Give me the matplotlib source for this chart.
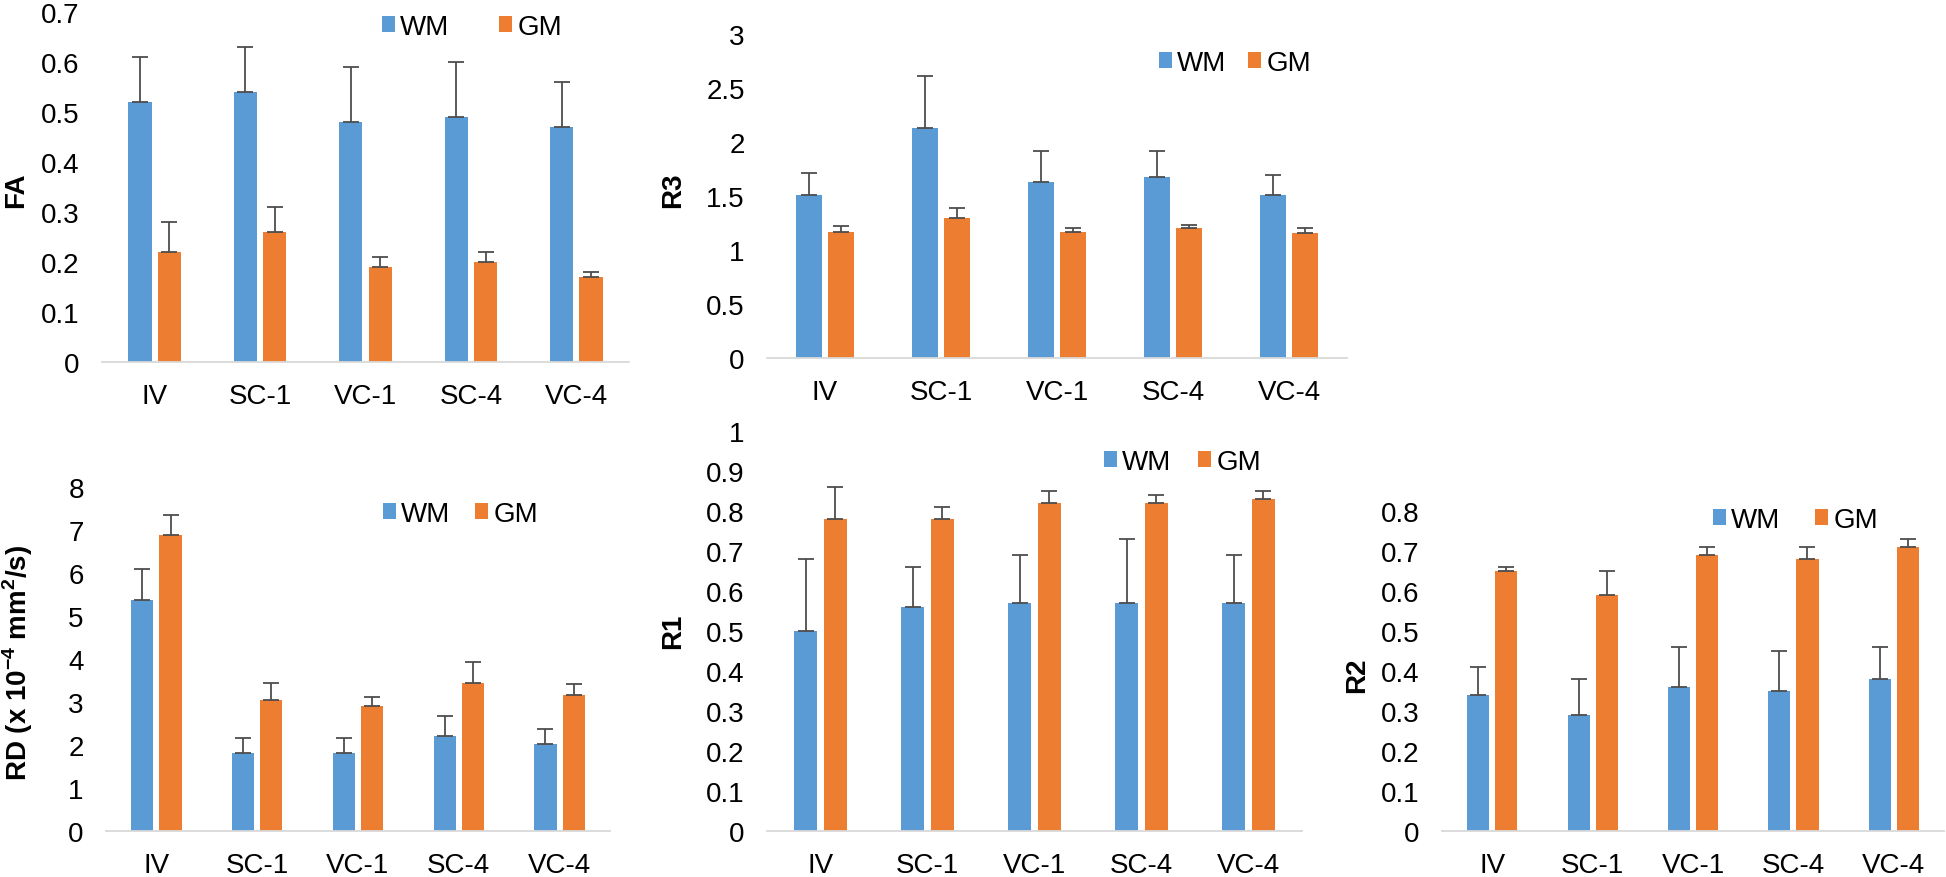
import numpy as np
from matplotlib import pyplot as plt
from matplotlib.ticker import FuncFormatter

W, H = 1946, 878
BLUE = '#5B9BD5'
ORANGE = '#ED7D31'
ERR_COLOR = '#4d4d4d'
FS = 20

groups = ['IV', 'SC-1', 'VC-1', 'SC-4', 'VC-4']

fa_wm = [0.52, 0.54, 0.48, 0.49, 0.47]
fa_wm_err = [0.09, 0.09, 0.11, 0.11, 0.09]
fa_gm = [0.22, 0.26, 0.19, 0.20, 0.17]
fa_gm_err = [0.06, 0.05, 0.02, 0.02, 0.01]

r3_wm = [1.51, 2.13, 1.63, 1.68, 1.51]
r3_wm_err = [0.20, 0.48, 0.29, 0.24, 0.18]
r3_gm = [1.17, 1.30, 1.17, 1.20, 1.16]
r3_gm_err = [0.05, 0.09, 0.03, 0.03, 0.04]

rd_wm = [5.37, 1.82, 1.82, 2.22, 2.02]
rd_wm_err = [0.73, 0.34, 0.34, 0.45, 0.35]
rd_gm = [6.88, 3.04, 2.91, 3.44, 3.16]
rd_gm_err = [0.48, 0.40, 0.20, 0.49, 0.27]

r1_wm = [0.50, 0.56, 0.57, 0.57, 0.57]
r1_wm_err = [0.18, 0.10, 0.12, 0.16, 0.12]
r1_gm = [0.78, 0.78, 0.82, 0.82, 0.83]
r1_gm_err = [0.08, 0.03, 0.03, 0.02, 0.02]

r2_wm = [0.34, 0.29, 0.36, 0.35, 0.38]
r2_wm_err = [0.07, 0.09, 0.10, 0.10, 0.08]
r2_gm = [0.65, 0.59, 0.69, 0.68, 0.71]
r2_gm_err = [0.01, 0.06, 0.02, 0.03, 0.02]

plt.rcParams['font.family'] = ['Liberation Sans', 'DejaVu Sans']
plt.rcParams['mathtext.fontset'] = 'custom'
plt.rcParams['mathtext.rm'] = 'Liberation Sans'
plt.rcParams['mathtext.bf'] = 'Liberation Sans:bold'

fig = plt.figure(figsize=(W / 100, H / 100), dpi=100)


def px_axes(x0, y0, x1, y1):
    # pixel box (top-left origin) -> figure axes
    return fig.add_axes([x0 / W, 1 - y1 / H, (x1 - x0) / W, (y1 - y0) / H])


def panel(box, wm, wm_err, gm, gm_err, top, step, label, label_xy, leg_xy, colspace):
    ax = px_axes(*box)
    x = np.arange(len(groups))
    off, bw = 0.14, 0.22
    ax.bar(x - off, wm, bw, color=BLUE, label='WM')
    ax.bar(x + off, gm, bw, color=ORANGE, label='GM')
    zeros = np.zeros(len(groups))
    ax.errorbar(x - off, wm, yerr=[zeros, wm_err], fmt='none', ecolor=ERR_COLOR,
                elinewidth=1.3, capsize=6, capthick=1.3)
    ax.errorbar(x + off, gm, yerr=[zeros, gm_err], fmt='none', ecolor=ERR_COLOR,
                elinewidth=1.3, capsize=6, capthick=1.3)
    ax.set_xlim(-0.5, len(groups) - 0.5)
    ax.set_ylim(0, top)
    ax.set_yticks(np.arange(0, top + step / 2, step))
    ax.yaxis.set_major_formatter(FuncFormatter(lambda v, p: '%g' % round(v, 2)))
    ax.set_xticks(x)
    ax.set_xticklabels(groups)
    for s in ['top', 'right', 'left']:
        ax.spines[s].set_visible(False)
    ax.spines['bottom'].set_color('#D9D9D9')
    ax.spines['bottom'].set_linewidth(1.3)
    ax.tick_params(axis='x', length=0, pad=15, labelsize=FS)
    ax.tick_params(axis='y', length=0, pad=16, labelsize=FS)
    fig.text(label_xy[0] / W, 1 - label_xy[1] / H, label, rotation=90,
             ha='center', va='center', fontsize=FS, fontweight='bold')
    fpx = FS * 100 / 72
    ax.legend(loc='center left', bbox_to_anchor=(leg_xy[0] / W, 1 - leg_xy[1] / H),
              bbox_transform=fig.transFigure, ncol=2, frameon=False, fontsize=FS,
              borderpad=0, borderaxespad=0, handlelength=13 / fpx, handleheight=13 / fpx,
              handletextpad=5 / fpx, columnspacing=colspace / fpx)
    return ax


panel((102, 13, 629, 363), fa_wm, fa_wm_err, fa_gm, fa_gm_err, 0.7, 0.1,
      'FA', (16, 190), (382, 28), 50)
panel((767, 35, 1347, 359), r3_wm, r3_wm_err, r3_gm, r3_gm_err, 3, 0.5,
      'R3', (673, 190), (1159, 64), 22)
panel((106, 488, 610, 832), rd_wm, rd_wm_err, rd_gm, rd_gm_err, 8, 1,
      r'RD (x 10$^{\mathbf{-4}}$ mm$^{\mathbf{2}}$/s)', (18, 663), (383, 515), 25)
panel((767, 432, 1302, 832), r1_wm, r1_wm_err, r1_gm, r1_gm_err, 1, 0.1,
      'R1', (673, 631), (1104, 463), 27)
panel((1442, 512, 1944, 832), r2_wm, r2_wm_err, r2_gm, r2_gm_err, 0.8, 0.1,
      'R2', (1357, 675), (1713, 521), 35)

fig.savefig('out.png', dpi=100)
